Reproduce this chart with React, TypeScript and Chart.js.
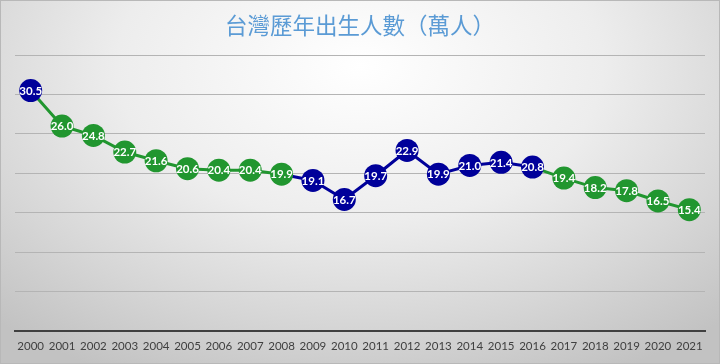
import React, { useEffect, useRef } from "react";
import { Chart, registerables } from "chart.js";

Chart.register(...registerables);

const years = ["2000","2001","2002","2003","2004","2005","2006","2007","2008","2009","2010","2011","2012","2013","2014","2015","2016","2017","2018","2019","2020","2021"];
const births = [30.5, 26.0, 24.8, 22.7, 21.6, 20.6, 20.4, 20.4, 19.9, 19.1, 16.7, 19.7, 22.9, 19.9, 21.0, 21.4, 20.8, 19.4, 18.2, 17.8, 16.5, 15.4];
const highlightYears = ["2000","2009","2010","2011","2012","2013","2014","2015","2016"];
const titleText = "台灣歷年出生人數（萬人）";

const GREEN = "#21962f";
const BLUE = "#00009a";

const colorAt = (i: number) => (highlightYears.includes(years[i]) ? BLUE : GREEN);

const labelPlugin = {
  id: "pointLabels",
  afterDatasetsDraw(chart: any) {
    const ctx = chart.ctx;
    const meta = chart.getDatasetMeta(0);
    ctx.save();
    ctx.fillStyle = "#ffffff";
    ctx.font = "bold 11.5px Lato, 'Open Sans', sans-serif";
    ctx.textAlign = "center";
    ctx.textBaseline = "middle";
    meta.data.forEach((pt: any, i: number) => {
      ctx.fillText(births[i].toFixed(1), pt.x, pt.y + 0.5);
    });
    ctx.restore();
  },
};

export default function App() {
  const ref = useRef<HTMLCanvasElement | null>(null);
  useEffect(() => {
    document.body.style.margin = "0";
    if (!ref.current) return;
    const chart = new Chart(ref.current, {
      type: "line",
      data: {
        labels: years,
        datasets: [
          {
            data: births,
            borderWidth: 3,
            tension: 0,
            pointRadius: 11.5,
            pointHoverRadius: 11.5,
            pointBorderWidth: 0,
            pointBackgroundColor: years.map((_, i) => colorAt(i)),
            pointBorderColor: years.map((_, i) => colorAt(i)),
            borderColor: GREEN,
            segment: {
              borderColor: (c: any) => colorAt(c.p1DataIndex),
            },
          },
        ],
      },
      options: {
        responsive: false,
        animation: false,
        layout: { padding: { left: 15, right: 15, top: 0, bottom: 3 } },
        plugins: {
          legend: { display: false },
          tooltip: { enabled: false },
          title: {
            display: true,
            text: titleText,
            color: "#5b9bd5",
            font: { family: "'Noto Sans CJK TC', sans-serif", size: 22.5, weight: "normal" },
            padding: { top: 12, bottom: 16 },
          },
        },
        scales: {
          x: {
            offset: true,
            grid: { display: false, drawTicks: false },
            border: { display: true, color: "#404040", width: 2 },
            ticks: {
              color: "#404040",
              padding: 8,
              maxRotation: 0,
              autoSkip: false,
              font: { family: "Lato, 'Open Sans', sans-serif", size: 11.5 },
            },
          },
          y: {
            min: 0,
            max: 35,
            ticks: { display: false, stepSize: 5 },
            border: { display: false },
            grid: {
              drawTicks: false,
              color: (c: any) => (c.tick && c.tick.value === 0 ? "rgba(0,0,0,0)" : "#b4b4b4"),
              lineWidth: 1,
            },
          },
        },
      },
      plugins: [labelPlugin],
    });
    return () => chart.destroy();
  }, []);

  return (
    <div
      style={{
        position: "relative",
        width: 720,
        height: 364,
        background:
          "radial-gradient(ellipse 75% 95% at 50% 18%, #ffffff 0%, #ededed 45%, #d6d6d6 75%, #c2c2c2 100%)",
        boxShadow: "inset 0 0 0 1px #b8b8b8",
      }}
    >
      <canvas ref={ref} width={720} height={364} style={{ position: "absolute", left: 0, top: 0, display: "block" }} />
    </div>
  );
}
